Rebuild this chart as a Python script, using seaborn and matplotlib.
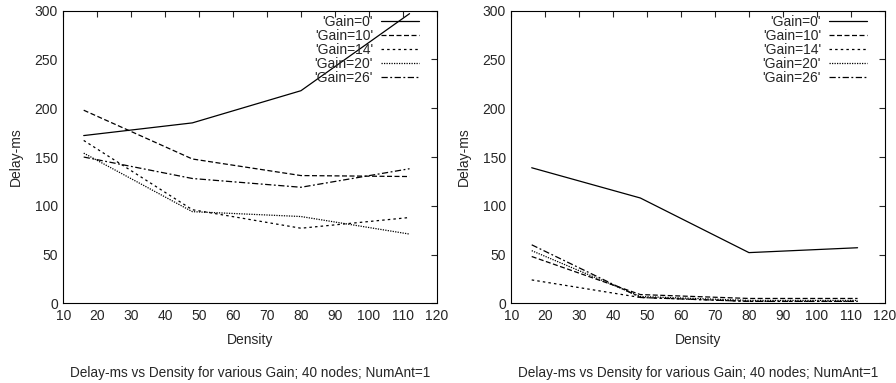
import numpy as np
import pandas as pd
import matplotlib.pyplot as plt
import seaborn as sns

# density values on the x axis
density = [16, 48, 80, 112]
gains = ["'Gain=0'", "'Gain=10'", "'Gain=14'", "'Gain=20'", "'Gain=26'"]

# left panel delays (ms)
left_g0 = [172, 185, 218, 297]
left_g10 = [198, 148, 131, 130]
left_g14 = [167, 96, 77, 88]
left_g20 = [154, 94, 89, 71]
left_g26 = [150, 128, 119, 138]

# right panel delays (ms)
right_g0 = [139, 108, 52, 57]
right_g10 = [48, 9, 5, 5]
right_g14 = [24, 6, 2, 2]
right_g20 = [54, 7, 3, 3]
right_g26 = [60, 6, 2, 2]

caption = "Delay-ms vs Density for various Gain; 40 nodes; NumAnt=1"


def to_frame(series):
    rows = []
    for g, vals in zip(gains, series):
        for d, v in zip(density, vals):
            rows.append({"Density": d, "Delay": v, "Gain": g})
    return pd.DataFrame(rows)


left = to_frame([left_g0, left_g10, left_g14, left_g20, left_g26])
right = to_frame([right_g0, right_g10, right_g14, right_g20, right_g26])

sns.set_style("white")
plt.rcParams['font.family'] = ['Liberation Sans', 'DejaVu Sans']
fs = 10

dashes = {
    gains[0]: "",
    gains[1]: (4, 2),
    gains[2]: (2, 2.5),
    gains[3]: (1, 1),
    gains[4]: (5, 2, 1.5, 2),
}
palette = {g: "black" for g in gains}

fig = plt.figure(figsize=(8.96, 3.83), dpi=100)
ax1 = fig.add_axes([0.0707, 0.208, 0.4167, 0.764])
ax2 = fig.add_axes([0.5707, 0.208, 0.4167, 0.764])

for ax, df in [(ax1, left), (ax2, right)]:
    sns.lineplot(data=df, x="Density", y="Delay", hue="Gain", style="Gain",
                 palette=palette, dashes=dashes, linewidth=0.9, ax=ax)
    ax.set_xlim(10, 120)
    ax.set_ylim(0, 300)
    ax.set_xticks(range(10, 121, 10))
    ax.set_yticks(range(0, 301, 50))
    ax.tick_params(direction="in", top=True, right=True, length=4,
                   width=0.8, labelsize=fs, pad=4)
    for s in ax.spines.values():
        s.set_color("black")
        s.set_linewidth(0.8)
    ax.set_xlabel("Density", fontsize=fs, labelpad=7)
    ax.set_ylabel("Delay-ms", fontsize=fs, labelpad=8)
    h, l = ax.get_legend_handles_labels()
    ax.legend(h, l, loc="upper right", bbox_to_anchor=(0.963, 1.0),
              frameon=False, markerfirst=False, fontsize=fs,
              handlelength=2.7, labelspacing=0.0, borderaxespad=0,
              borderpad=0.3, handletextpad=0.6)

fig.text(0.279, 0.015, caption, ha="center", fontsize=9.8)
fig.text(0.779, 0.015, caption, ha="center", fontsize=9.8)

fig.savefig("out.png", dpi=100)
